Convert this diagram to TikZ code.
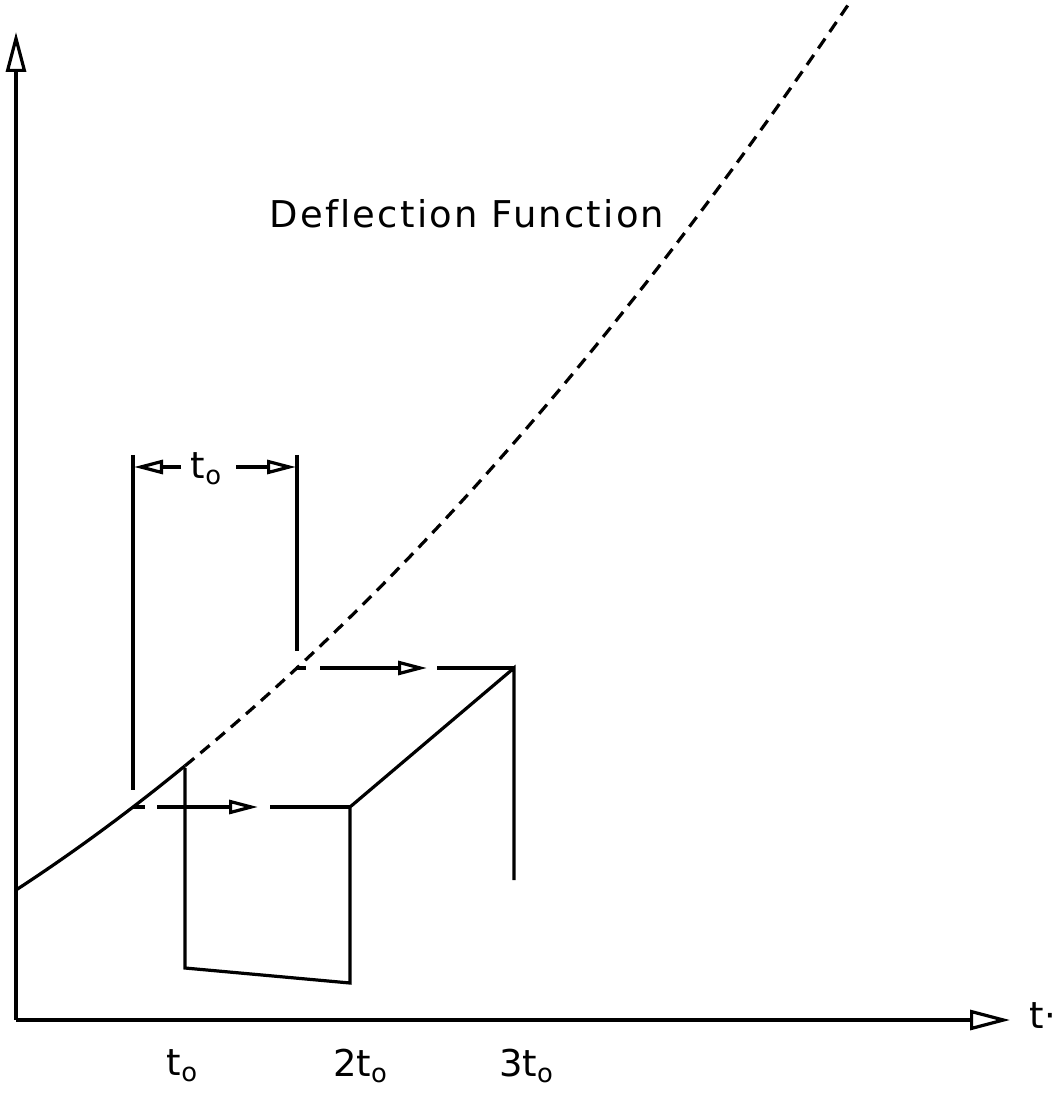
\documentclass[tikz,border=0pt]{standalone}
\usepackage{fontspec}
\setmainfont{DejaVu Sans}[Ligatures=NoCommon]
\usetikzlibrary{arrows.meta}

\begin{document}
\begin{tikzpicture}[
  x=0.1mm, y=-0.1mm,
  pen/.style={line width=0.32mm},
  axis/.style={pen, -{Triangle[open, length=4mm, width=2mm]}},
  shiftarrow/.style={pen, -{Triangle[open, length=2.9mm, width=1.4mm]}},
  dashcurve/.style={pen, dash pattern=on 1.2mm off 0.8mm},
  lbl/.style={font=\fontsize{10.5}{12}\selectfont, inner sep=0pt}
]
\useasboundingbox (0,0) rectangle (1062,1094);

\coordinate (o) at (16,1020);
\coordinate (ytip) at (16,32);
\coordinate (xtip) at (1010,1020);
\coordinate (a) at (133,807);
\coordinate (b) at (185,768);
\coordinate (bb) at (185,968);
\coordinate (cc) at (350,983);
\coordinate (c) at (350,807);
\coordinate (d) at (296,668);
\coordinate (e) at (514,668);
\coordinate (ee) at (514,880);

\draw[axis] (o) -- (ytip);
\draw[axis] (o) -- (xtip);
\node[lbl] (tlab) at (1043,1016) {t·};

\draw[pen] plot[domain=0:1.69, samples=25] ({16+100*\x}, {890-65.1*\x-4.96*\x*\x});
\draw[dashcurve] plot[domain=1.69:8.32, samples=90] ({16+100*\x}, {890-65.1*\x-4.96*\x*\x});
\node[lbl, font=\fontsize{10.5}{12}\selectfont\addfontfeature{LetterSpace=6}] (defl) at (467,214) {Deflection Function};

\draw[pen] (a) -- (145,807);
\draw[shiftarrow] (157,807) -- (258,807);
\draw[pen] (270,807) -- (c);
\draw[pen] (d) -- (306,668);
\draw[shiftarrow] (320,668) -- (427,668);
\draw[pen] (437,668) -- (e);

\draw[pen] (b) -- (bb) -- (cc) -- (c) -- (e) -- (ee);

\draw[pen] (133,455) -- (133,790);
\draw[pen] (297,455) -- (297,651);
\draw[shiftarrow] (181,467) -- (134,467);
\draw[shiftarrow] (236,467) -- (296,467);
\node[lbl] (dim) at (207,469) {t\textsubscript{o}};

\node[lbl] (t1) at (183,1066) {t\textsubscript{o}};
\node[lbl] (t2) at (361,1066) {2t\textsubscript{o}};
\node[lbl] (t3) at (527,1066) {3t\textsubscript{o}};
\end{tikzpicture}
\end{document}
